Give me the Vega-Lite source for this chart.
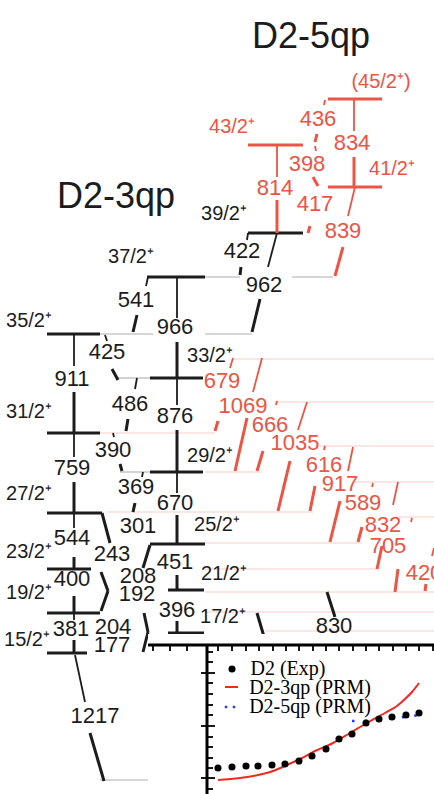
{
"$schema": "https://vega.github.io/schema/vega-lite/v6.json",
"width": 434, "height": 794, "padding": 0, "autosize": {"type": "none"},
"background": "white",
"config": {"view": {"stroke": null}},
"datasets": {
"lv": [
{"x":47,"x2":87,"y":653,"band":"3qp"},
{"x":47,"x2":100,"y":613,"band":"3qp"},
{"x":47,"x2":91,"y":569,"band":"3qp"},
{"x":47,"x2":102,"y":513,"band":"3qp"},
{"x":47,"x2":100,"y":433,"band":"3qp"},
{"x":47,"x2":100,"y":334,"band":"3qp"},
{"x":168,"x2":204,"y":633,"band":"3qp"},
{"x":168,"x2":204,"y":590,"band":"3qp"},
{"x":150,"x2":205,"y":544,"band":"3qp"},
{"x":150,"x2":203,"y":472,"band":"3qp"},
{"x":150,"x2":203,"y":378,"band":"3qp"},
{"x":147,"x2":205,"y":277,"band":"3qp"},
{"x":248,"x2":303,"y":233,"band":"3qp"},
{"x":248,"x2":303,"y":145,"band":"5qp"},
{"x":328,"x2":382,"y":99,"band":"5qp"},
{"x":328,"x2":382,"y":187,"band":"5qp"},
{"x":100,"x2":148,"y":780,"band":"ext"},
{"x":100,"x2":153,"y":334,"band":"ext"},
{"x":205,"x2":252,"y":334,"band":"ext"},
{"x":205,"x2":240,"y":277,"band":"ext"},
{"x":292,"x2":333,"y":277,"band":"ext"},
{"x":118,"x2":150,"y":378,"band":"ext"},
{"x":120,"x2":150,"y":472,"band":"ext"},
{"x":233,"x2":434,"y":359,"band":"feed"},
{"x":277,"x2":434,"y":402,"band":"feed"},
{"x":100,"x2":215,"y":433,"band":"feed"},
{"x":320,"x2":434,"y":446,"band":"feed"},
{"x":205,"x2":262,"y":472,"band":"feed"},
{"x":352,"x2":434,"y":482,"band":"feed"},
{"x":107,"x2":313,"y":512,"band":"feed"},
{"x":395,"x2":434,"y":517,"band":"feed"},
{"x":205,"x2":362,"y":543,"band":"feed"},
{"x":205,"x2":380,"y":569,"band":"feed"},
{"x":205,"x2":434,"y":592,"band":"feed"},
{"x":205,"x2":434,"y":612,"band":"feed"},
{"x":265,"x2":434,"y":631,"band":"feed"}
],
"tr": [
{"x":75,"y":655,"x2":85,"y2":702,"band":"3qp","part":"tail"},
{"x":90,"y":733,"x2":104,"y2":781,"band":"3qp","part":"head"},
{"x":74,"y":613,"x2":74,"y2":620,"band":"3qp","part":"tail"},
{"x":74,"y":640,"x2":74,"y2":653,"band":"3qp","part":"head"},
{"x":74,"y":596,"x2":74,"y2":613,"band":"3qp","part":"head"},
{"x":74,"y":513,"x2":74,"y2":528,"band":"3qp","part":"tail"},
{"x":74,"y":557,"x2":74,"y2":569,"band":"3qp","part":"head"},
{"x":74,"y":433,"x2":74,"y2":457,"band":"3qp","part":"tail"},
{"x":74,"y":482,"x2":74,"y2":513,"band":"3qp","part":"head"},
{"x":74,"y":334,"x2":74,"y2":366,"band":"3qp","part":"tail"},
{"x":74,"y":392,"x2":74,"y2":433,"band":"3qp","part":"head"},
{"x":177,"y":277,"x2":177,"y2":318,"band":"3qp","part":"tail"},
{"x":177,"y":342,"x2":177,"y2":378,"band":"3qp","part":"head"},
{"x":177,"y":378,"x2":177,"y2":405,"band":"3qp","part":"tail"},
{"x":177,"y":430,"x2":177,"y2":472,"band":"3qp","part":"head"},
{"x":177,"y":472,"x2":177,"y2":493,"band":"3qp","part":"tail"},
{"x":177,"y":515,"x2":177,"y2":544,"band":"3qp","part":"head"},
{"x":177,"y":575,"x2":177,"y2":590,"band":"3qp","part":"head"},
{"x":177,"y":621,"x2":177,"y2":633,"band":"3qp","part":"head"},
{"x":105,"y":335,"x2":107,"y2":341,"band":"3qp","part":"tail"},
{"x":112,"y":369,"x2":118,"y2":380,"band":"3qp","part":"head"},
{"x":137,"y":378,"x2":135,"y2":389,"band":"3qp","part":"tail"},
{"x":128,"y":419,"x2":126,"y2":431,"band":"3qp","part":"head"},
{"x":113,"y":433,"x2":114,"y2":437,"band":"3qp","part":"tail"},
{"x":120,"y":464,"x2":122,"y2":471,"band":"3qp","part":"head"},
{"x":143,"y":472,"x2":142,"y2":477,"band":"3qp","part":"tail"},
{"x":135,"y":503,"x2":133,"y2":512,"band":"3qp","part":"head"},
{"x":148,"y":277,"x2":146,"y2":286,"band":"3qp","part":"tail"},
{"x":137,"y":315,"x2":133,"y2":332,"band":"3qp","part":"head"},
{"x":277,"y":233,"x2":268,"y2":267,"band":"3qp","part":"tail"},
{"x":260,"y":299,"x2":252,"y2":332,"band":"3qp","part":"head"},
{"x":248,"y":233,"x2":247,"y2":240,"band":"3qp","part":"tail"},
{"x":241,"y":267,"x2":240,"y2":275,"band":"3qp","part":"head"},
{"x":102,"y":513,"x2":110,"y2":543,"band":"3qp","part":"head"},
{"x":150,"y":545,"x2":143,"y2":568,"band":"3qp","part":"head"},
{"x":101,"y":572,"x2":108,"y2":591,"band":"3qp","part":"head"},
{"x":108,"y":591,"x2":101,"y2":611,"band":"3qp","part":"head"},
{"x":144,"y":613,"x2":148,"y2":632,"band":"3qp","part":"head"},
{"x":148,"y":632,"x2":143,"y2":652,"band":"3qp","part":"head"},
{"x":327,"y":592,"x2":335,"y2":617,"band":"3qp","part":"head"},
{"x":257,"y":613,"x2":265,"y2":640,"band":"3qp","part":"head"},
{"x":354,"y":99,"x2":354,"y2":131,"band":"5qp","part":"tail"},
{"x":354,"y":157,"x2":354,"y2":187,"band":"5qp","part":"head"},
{"x":277,"y":145,"x2":277,"y2":177,"band":"5qp","part":"tail"},
{"x":277,"y":200,"x2":277,"y2":233,"band":"5qp","part":"head"},
{"x":325,"y":100,"x2":324,"y2":105,"band":"5qp","part":"tail"},
{"x":317,"y":134,"x2":315,"y2":142,"band":"5qp","part":"head"},
{"x":315,"y":146,"x2":316,"y2":151,"band":"5qp","part":"tail"},
{"x":313,"y":177,"x2":318,"y2":186,"band":"5qp","part":"head"},
{"x":310,"y":226,"x2":308,"y2":233,"band":"5qp","part":"head"},
{"x":355,"y":187,"x2":348,"y2":216,"band":"5qp","part":"tail"},
{"x":343,"y":247,"x2":335,"y2":276,"band":"5qp","part":"head"},
{"x":233,"y":358,"x2":230,"y2":368,"band":"5qp","part":"tail"},
{"x":218,"y":421,"x2":215,"y2":431,"band":"5qp","part":"head"},
{"x":262,"y":358,"x2":253,"y2":392,"band":"5qp","part":"tail"},
{"x":247,"y":418,"x2":235,"y2":471,"band":"5qp","part":"head"},
{"x":277,"y":401,"x2":276,"y2":405,"band":"5qp","part":"tail"},
{"x":263,"y":451,"x2":257,"y2":471,"band":"5qp","part":"head"},
{"x":307,"y":402,"x2":298,"y2":430,"band":"5qp","part":"tail"},
{"x":290,"y":461,"x2":278,"y2":511,"band":"5qp","part":"head"},
{"x":325,"y":446,"x2":324,"y2":450,"band":"5qp","part":"tail"},
{"x":315,"y":486,"x2":310,"y2":511,"band":"5qp","part":"head"},
{"x":353,"y":447,"x2":348,"y2":471,"band":"5qp","part":"tail"},
{"x":340,"y":501,"x2":330,"y2":542,"band":"5qp","part":"head"},
{"x":373,"y":483,"x2":372,"y2":487,"band":"5qp","part":"tail"},
{"x":362,"y":527,"x2":358,"y2":542,"band":"5qp","part":"head"},
{"x":398,"y":482,"x2":393,"y2":505,"band":"5qp","part":"tail"},
{"x":382,"y":546,"x2":377,"y2":569,"band":"5qp","part":"head"},
{"x":412,"y":518,"x2":411,"y2":522,"band":"5qp","part":"tail"},
{"x":398,"y":569,"x2":395,"y2":592,"band":"5qp","part":"head"},
{"x":434,"y":548,"x2":432,"y2":556,"band":"5qp","part":"tail"},
{"x":426,"y":584,"x2":425,"y2":591,"band":"5qp","part":"head"}
],
"lab": [
{"x":311,"y":37,"t":"D2-5qp","band":"3qp","kind":"title"},
{"x":116,"y":197,"t":"D2-3qp","band":"3qp","kind":"title"},
{"x":29,"y":321,"t":"35/2⁺","band":"3qp","kind":"level"},
{"x":29,"y":412,"t":"31/2⁺","band":"3qp","kind":"level"},
{"x":29,"y":494,"t":"27/2⁺","band":"3qp","kind":"level"},
{"x":29,"y":552,"t":"23/2⁺","band":"3qp","kind":"level"},
{"x":29,"y":593,"t":"19/2⁺","band":"3qp","kind":"level"},
{"x":27,"y":640,"t":"15/2⁺","band":"3qp","kind":"level"},
{"x":131,"y":257,"t":"37/2⁺","band":"3qp","kind":"level"},
{"x":210,"y":356,"t":"33/2⁺","band":"3qp","kind":"level"},
{"x":210,"y":456,"t":"29/2⁺","band":"3qp","kind":"level"},
{"x":217,"y":525,"t":"25/2⁺","band":"3qp","kind":"level"},
{"x":224,"y":574,"t":"21/2⁺","band":"3qp","kind":"level"},
{"x":223,"y":617,"t":"17/2⁺","band":"3qp","kind":"level"},
{"x":224,"y":214,"t":"39/2⁺","band":"3qp","kind":"level"},
{"x":232,"y":127,"t":"43/2⁺","band":"5qp","kind":"level"},
{"x":392,"y":169,"t":"41/2⁺","band":"5qp","kind":"level"},
{"x":381,"y":82,"t":"(45/2⁺)","band":"5qp","kind":"level"},
{"x":95,"y":716,"t":"1217","band":"3qp","kind":"gamma"},
{"x":71,"y":629,"t":"381","band":"3qp","kind":"gamma"},
{"x":72,"y":579,"t":"400","band":"3qp","kind":"gamma"},
{"x":72,"y":538,"t":"544","band":"3qp","kind":"gamma"},
{"x":72,"y":468,"t":"759","band":"3qp","kind":"gamma"},
{"x":72,"y":379,"t":"911","band":"3qp","kind":"gamma"},
{"x":107,"y":352,"t":"425","band":"3qp","kind":"gamma"},
{"x":130,"y":404,"t":"486","band":"3qp","kind":"gamma"},
{"x":113,"y":450,"t":"390","band":"3qp","kind":"gamma"},
{"x":136,"y":487,"t":"369","band":"3qp","kind":"gamma"},
{"x":136,"y":300,"t":"541","band":"3qp","kind":"gamma"},
{"x":175,"y":327,"t":"966","band":"3qp","kind":"gamma"},
{"x":175,"y":416,"t":"876","band":"3qp","kind":"gamma"},
{"x":175,"y":503,"t":"670","band":"3qp","kind":"gamma"},
{"x":138,"y":526,"t":"301","band":"3qp","kind":"gamma"},
{"x":112,"y":554,"t":"243","band":"3qp","kind":"gamma"},
{"x":138,"y":576,"t":"208","band":"3qp","kind":"gamma"},
{"x":137,"y":594,"t":"192","band":"3qp","kind":"gamma"},
{"x":175,"y":562,"t":"451","band":"3qp","kind":"gamma"},
{"x":177,"y":610,"t":"396","band":"3qp","kind":"gamma"},
{"x":113,"y":627,"t":"204","band":"3qp","kind":"gamma"},
{"x":112,"y":645,"t":"177","band":"3qp","kind":"gamma"},
{"x":242,"y":251,"t":"422","band":"3qp","kind":"gamma"},
{"x":264,"y":285,"t":"962","band":"3qp","kind":"gamma"},
{"x":334,"y":626,"t":"830","band":"3qp","kind":"gamma"},
{"x":318,"y":119,"t":"436","band":"5qp","kind":"gamma"},
{"x":352,"y":143,"t":"834","band":"5qp","kind":"gamma"},
{"x":307,"y":164,"t":"398","band":"5qp","kind":"gamma"},
{"x":275,"y":188,"t":"814","band":"5qp","kind":"gamma"},
{"x":315,"y":204,"t":"417","band":"5qp","kind":"gamma"},
{"x":343,"y":231,"t":"839","band":"5qp","kind":"gamma"},
{"x":222,"y":381,"t":"679","band":"5qp","kind":"gamma"},
{"x":243,"y":406,"t":"1069","band":"5qp","kind":"gamma"},
{"x":270,"y":425,"t":"666","band":"5qp","kind":"gamma"},
{"x":295,"y":443,"t":"1035","band":"5qp","kind":"gamma"},
{"x":324,"y":465,"t":"616","band":"5qp","kind":"gamma"},
{"x":340,"y":484,"t":"917","band":"5qp","kind":"gamma"},
{"x":363,"y":503,"t":"589","band":"5qp","kind":"gamma"},
{"x":383,"y":525,"t":"832","band":"5qp","kind":"gamma"},
{"x":388,"y":546,"t":"705","band":"5qp","kind":"gamma"},
{"x":424,"y":573,"t":"420","band":"5qp","kind":"gamma"}
],
"box": [{"x":148,"y":634,"x2":434,"y2":794}],
"frame": [
{"x":148,"y":645,"x2":434,"y2":645,"kind":"axis"},
{"x":207,"y":645,"x2":207,"y2":794,"kind":"axis"},
{"x":153,"y":645,"x2":153,"y2":651,"kind":"tick"},
{"x":170,"y":645,"x2":170,"y2":651,"kind":"tick"},
{"x":187,"y":645,"x2":187,"y2":651,"kind":"tick"},
{"x":218,"y":645,"x2":218,"y2":651,"kind":"tick"},
{"x":232,"y":645,"x2":232,"y2":651,"kind":"tick"},
{"x":246,"y":645,"x2":246,"y2":651,"kind":"tick"},
{"x":259,"y":645,"x2":259,"y2":651,"kind":"tick"},
{"x":273,"y":645,"x2":273,"y2":651,"kind":"tick"},
{"x":286,"y":645,"x2":286,"y2":651,"kind":"tick"},
{"x":299,"y":645,"x2":299,"y2":651,"kind":"tick"},
{"x":313,"y":645,"x2":313,"y2":651,"kind":"tick"},
{"x":326,"y":645,"x2":326,"y2":651,"kind":"tick"},
{"x":339,"y":645,"x2":339,"y2":651,"kind":"tick"},
{"x":353,"y":645,"x2":353,"y2":651,"kind":"tick"},
{"x":366,"y":645,"x2":366,"y2":651,"kind":"tick"},
{"x":379,"y":645,"x2":379,"y2":651,"kind":"tick"},
{"x":393,"y":645,"x2":393,"y2":651,"kind":"tick"},
{"x":406,"y":645,"x2":406,"y2":651,"kind":"tick"},
{"x":419,"y":645,"x2":419,"y2":651,"kind":"tick"},
{"x":433,"y":645,"x2":433,"y2":651,"kind":"tick"},
{"x":207,"y":652,"x2":213,"y2":652,"kind":"tick"},
{"x":207,"y":662,"x2":213,"y2":662,"kind":"tick"},
{"x":201,"y":673,"x2":215,"y2":673,"kind":"tick"},
{"x":207,"y":683,"x2":213,"y2":683,"kind":"tick"},
{"x":207,"y":694,"x2":213,"y2":694,"kind":"tick"},
{"x":207,"y":705,"x2":213,"y2":705,"kind":"tick"},
{"x":207,"y":715,"x2":213,"y2":715,"kind":"tick"},
{"x":201,"y":726,"x2":215,"y2":726,"kind":"tick"},
{"x":207,"y":737,"x2":213,"y2":737,"kind":"tick"},
{"x":207,"y":747,"x2":213,"y2":747,"kind":"tick"},
{"x":207,"y":758,"x2":213,"y2":758,"kind":"tick"},
{"x":207,"y":768,"x2":213,"y2":768,"kind":"tick"},
{"x":201,"y":778,"x2":215,"y2":778,"kind":"tick"},
{"x":207,"y":789,"x2":213,"y2":789,"kind":"tick"}
],
"exp": [
{"x":218,"y":768},{"x":232,"y":767},{"x":246,"y":766},{"x":258,"y":766},{"x":272,"y":765},{"x":285,"y":764},{"x":299,"y":761},{"x":312,"y":756},{"x":326,"y":749},{"x":339,"y":739},{"x":352,"y":734},{"x":366,"y":723},{"x":379,"y":719},{"x":392,"y":717},{"x":406,"y":715},{"x":419,"y":713}
],
"prm3": [
{"x":218,"y":780},{"x":240,"y":778},{"x":258,"y":775},{"x":273,"y":771},{"x":287,"y":765},{"x":300,"y":759},{"x":315,"y":751},{"x":333,"y":743},{"x":350,"y":733},{"x":367,"y":723},{"x":385,"y":713},{"x":397,"y":706},{"x":405,"y":699},{"x":412,"y":692},{"x":419,"y":683}
],
"prm5": [
{"x":352,"y":721},{"x":365,"y":721},{"x":378,"y":719},{"x":392,"y":718},{"x":405,"y":717},{"x":420,"y":715}
],
"legdot": [{"x":232,"y":669}],
"legline": [{"x":225,"y":687,"x2":238,"y2":687}],
"legblue": [{"x":226,"y":707},{"x":234,"y":707}],
"legtext": [
{"x":288,"y":669,"t":"D2 (Exp)"},
{"x":310,"y":688,"t":"D2-3qp (PRM)"},
{"x":310,"y":707,"t":"D2-5qp (PRM)"}
]
},
"encoding": {
"x": {"field":"x","type":"quantitative","scale":{"domain":[0,434],"nice":false,"zero":false},"axis":null},
"y": {"field":"y","type":"quantitative","scale":{"domain":[0,794],"reverse":true,"nice":false,"zero":false},"axis":null}
},
"layer": [
{"data":{"name":"lv"},"transform":[{"filter":"datum.band=='feed'"}],"mark":{"type":"rule","strokeWidth":1.2},
 "encoding":{"x2":{"field":"x2"},"y2":{"field":"y"},"color":{"field":"band","type":"nominal","scale":{"domain":["3qp","5qp","ext","feed"],"range":["#1c1c1c","#ec5444","#c8c8c8","#f8cdca"]},"legend":null}}},
{"data":{"name":"lv"},"transform":[{"filter":"datum.band=='ext'"}],"mark":{"type":"rule","strokeWidth":1.6},
 "encoding":{"x2":{"field":"x2"},"y2":{"field":"y"},"color":{"field":"band","type":"nominal","legend":null}}},
{"data":{"name":"lv"},"transform":[{"filter":"datum.band=='3qp' || datum.band=='5qp'"}],"mark":{"type":"rule","strokeWidth":3},
 "encoding":{"x2":{"field":"x2"},"y2":{"field":"y"},"color":{"field":"band","type":"nominal","legend":null}}},
{"data":{"name":"tr"},"transform":[{"filter":"datum.part=='tail'"}],"mark":{"type":"rule","strokeWidth":1.8},
 "encoding":{"x2":{"field":"x2"},"y2":{"field":"y2"},"color":{"field":"band","type":"nominal","legend":null}}},
{"data":{"name":"tr"},"transform":[{"filter":"datum.part=='head'"}],"mark":{"type":"rule","strokeWidth":3},
 "encoding":{"x2":{"field":"x2"},"y2":{"field":"y2"},"color":{"field":"band","type":"nominal","legend":null}}},
{"data":{"name":"lab"},"transform":[{"filter":"datum.kind=='title'"}],"mark":{"type":"text","font":"Liberation Sans","fontSize":36,"baseline":"middle","align":"center"},
 "encoding":{"text":{"field":"t"},"color":{"field":"band","type":"nominal","legend":null}}},
{"data":{"name":"lab"},"transform":[{"filter":"datum.kind=='level'"}],"mark":{"type":"text","font":"Liberation Sans","fontSize":20,"baseline":"middle","align":"center"},
 "encoding":{"text":{"field":"t"},"color":{"field":"band","type":"nominal","legend":null}}},
{"data":{"name":"lab"},"transform":[{"filter":"datum.kind=='gamma'"}],"mark":{"type":"text","font":"Liberation Sans","fontSize":22,"baseline":"middle","align":"center"},
 "encoding":{"text":{"field":"t"},"color":{"field":"band","type":"nominal","legend":null}}},
{"data":{"name":"box"},"mark":{"type":"rect","color":"white"},
 "encoding":{"x2":{"field":"x2"},"y2":{"field":"y2"}}},
{"data":{"name":"frame"},"transform":[{"filter":"datum.kind=='axis'"}],"mark":{"type":"rule","color":"black","strokeWidth":3},
 "encoding":{"x2":{"field":"x2"},"y2":{"field":"y2"}}},
{"data":{"name":"frame"},"transform":[{"filter":"datum.kind=='tick'"}],"mark":{"type":"rule","color":"black","strokeWidth":1.8},
 "encoding":{"x2":{"field":"x2"},"y2":{"field":"y2"}}},
{"data":{"name":"prm3"},"mark":{"type":"line","color":"#ee2a1f","strokeWidth":2,"interpolate":"monotone"},"encoding":{}},
{"data":{"name":"prm5"},"mark":{"type":"line","color":"#1f3cff","strokeWidth":2.5,"strokeDash":[2.5,10]},"encoding":{}},
{"data":{"name":"exp"},"mark":{"type":"circle","color":"black","size":50,"opacity":1},"encoding":{}},
{"data":{"name":"legdot"},"mark":{"type":"circle","color":"black","size":50,"opacity":1},"encoding":{}},
{"data":{"name":"legline"},"mark":{"type":"rule","color":"#ee2a1f","strokeWidth":2},"encoding":{"x2":{"field":"x2"},"y2":{"field":"y2"}}},
{"data":{"name":"legblue"},"mark":{"type":"square","color":"#1f3cff","size":6,"opacity":1},"encoding":{}},
{"data":{"name":"legtext"},"mark":{"type":"text","font":"Liberation Serif","fontSize":20,"baseline":"middle","align":"center","color":"black"},
 "encoding":{"text":{"field":"t"}}}
]
}
